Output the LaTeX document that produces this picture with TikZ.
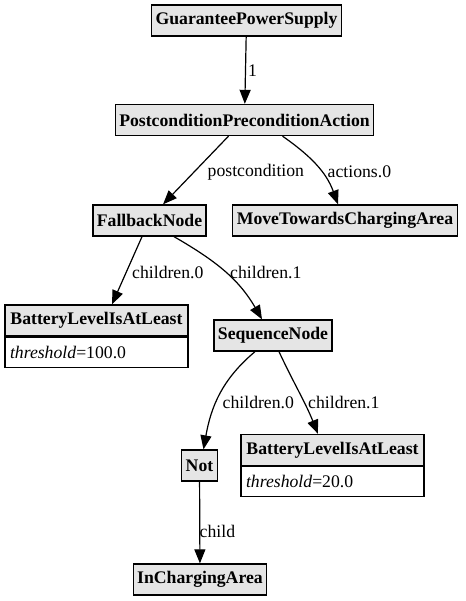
\documentclass[tikz,border=0pt]{standalone}
\usepackage{fontspec}
\setmainfont{Liberation Serif}
\usetikzlibrary{arrows.meta}

\tikzset{
  box/.style={draw, line width=1.3pt, fill=black!10, font=\fontsize{17.7}{20}\selectfont\bfseries,
    inner xsep=4pt, inner ysep=0pt, minimum height=31pt},
  attr/.style={draw, line width=1.3pt, fill=white, font=\fontsize{17.7}{20}\selectfont,
    inner xsep=5pt, inner ysep=0pt, minimum height=30pt, text width=173pt, align=left, anchor=north},
  edge/.style={line width=1.2pt, -{Triangle[length=14pt,width=11pt]}},
  lbl/.style={font=\fontsize{17.7}{20}\selectfont, anchor=west, inner sep=0pt}
}

\begin{document}
\begin{tikzpicture}[x=1pt,y=1pt]
			\useasboundingbox (0,0) rectangle (465,-601);

			% behaviour tree nodes
			\node[box] (gps) at (246.5,-20.5) {GuaranteePowerSupply};
			\node[box] (ppa) at (244.5,-120) {PostconditionPreconditionAction};
			\node[box] (fb) at (149.5,-220.5) {FallbackNode};
			\node[box] (move) at (345,-220.5) {MoveTowardsChargingArea};
			\node[box, minimum width=183pt] (bla) at (96.5,-320.5) {BatteryLevelIsAtLeast};
			\node[attr] (blaattr) at (bla.south) {\textit{threshold}=100.0};
			\node[box] (seq) at (273,-335.5) {SequenceNode};
			\node[box] (not) at (199.5,-465.5) {Not};
			\node[box, minimum width=183pt] (blb) at (332.5,-450) {BatteryLevelIsAtLeast};
			\node[attr] (blbattr) at (blb.south) {\textit{threshold}=20.0};
			\node[box] (ica) at (200,-579.5) {InChargingArea};

			% edges
			\draw[edge] (gps) -- (ppa);
			\draw[edge] ([xshift=-16pt]ppa.south) -- ([xshift=13.5pt]fb.north);
			\draw[edge] ([xshift=38pt]ppa.south) to[out=-35,in=110] ([xshift=-7pt]move.north);
			\draw[edge] ([xshift=-7.5pt]fb.south) -- ([xshift=15.5pt]bla.north);
			\draw[edge] ([xshift=24.5pt]fb.south) to[out=-30,in=120] ([xshift=-11pt]seq.north);
			\draw[edge] ([xshift=-18pt]seq.south) to[out=-140,in=80] ([xshift=4pt]not.north);
			\draw[edge] ([xshift=6pt]seq.south) to[out=-65,in=112] ([xshift=-14.5pt]blb.north);
			\draw[edge] (not) -- (ica);

			% edge labels
			\node[lbl] (l1) at (248,-71) {1};
			\node[lbl] (lpost) at (207.5,-172) {postcondition};
			\node[lbl] (lact) at (327.5,-172) {actions.0};
			\node[lbl] (lfba) at (132,-272) {children.0};
			\node[lbl] (lfbb) at (230,-272) {children.1};
			\node[lbl] (lseqa) at (222.5,-402) {children.0};
			\node[lbl] (lseqb) at (308,-402) {children.1};
			\node[lbl] (lchild) at (199.5,-531) {child};
\end{tikzpicture}
\end{document}
